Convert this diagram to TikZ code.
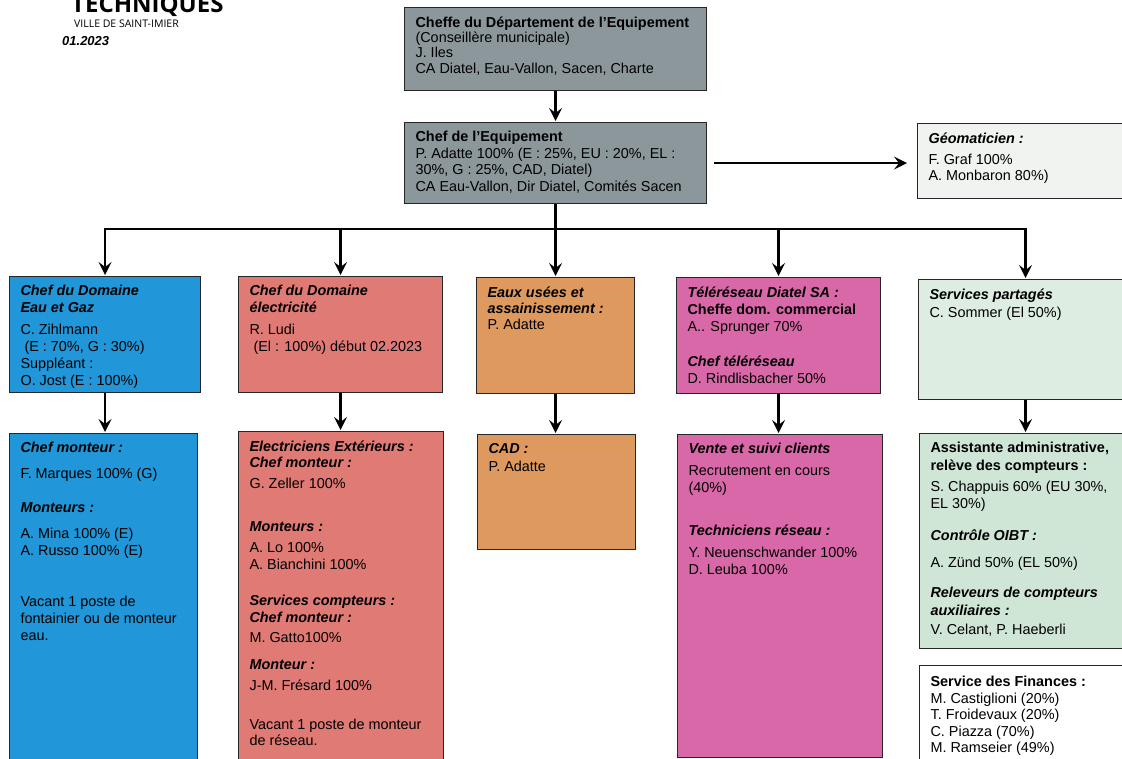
\documentclass[tikz,border=0pt]{standalone}
\usepackage{fontspec}
\setmainfont{Liberation Sans}
\newfontfamily\headfont{Open Sans}
\usetikzlibrary{arrows.meta}
\definecolor{grayunit}{HTML}{8C979C}
\definecolor{geounit}{HTML}{F1F3F1}
\definecolor{blueunit}{HTML}{2196D8}
\definecolor{redunit}{HTML}{E07A75}
\definecolor{orangeunit}{HTML}{DE9A5E}
\definecolor{pinkunit}{HTML}{D968A8}
\definecolor{greenunit}{HTML}{DDEDE2}
\definecolor{greenunitb}{HTML}{CFE5D5}
\tikzstyle{unit} = [draw=black!85, line width=1.1pt, anchor=north west, inner xsep=11pt, inner ysep=9pt, font=\fontsize{14.4}{17}\selectfont]
\tikzstyle{conn} = [line width=2.3pt, -{Stealth[length=13pt,width=13pt,inset=5pt]}, shorten >=1pt]
\newcommand{\unittext}[4][17]{\parbox[t][#3][t]{#2}{\fontsize{14.4}{#1}\selectfont\raggedright #4}}
\newcommand{\ttl}[1]{\textbf{\textit{#1}}}

\begin{document}
\begin{tikzpicture}[x=1pt,y=-1pt]
	\useasboundingbox (0,0) rectangle (1122,758);
	\clip (0,0) rectangle (1122,758);
	\node[anchor=base west, inner sep=0pt, font=\headfont\bfseries\fontsize{24}{24}\selectfont] (title) at (71,12) {TECHNIQUES};
	\node[anchor=base west, inner sep=0pt, font=\headfont\fontsize{10.5}{11}\selectfont] (ville) at (74,27) {VILLE DE SAINT-IMIER};
	\node[anchor=base west, inner sep=0pt, font=\bfseries\itshape\fontsize{13}{13}\selectfont] (date) at (62,45) {01.2023};

	\node[unit, fill=grayunit] (dept) at (404,7) {\unittext[15.3]{280pt}{65pt}{\textbf{Cheffe du Département de l'Equipement}\\ (Conseillère municipale)\\ J. Iles\\ CA Diatel, Eau-Vallon, Sacen, Charte}};
	\node[unit, fill=grayunit] (chef) at (404,122) {\unittext[16.5]{280pt}{63pt}{\textbf{Chef de l'Equipement}\\ P. Adatte 100\% (E : 25\%, EU : 20\%, EL :\\ 30\%, G : 25\%, CAD, Diatel)\\ CA Eau-Vallon, Dir Diatel, Comités Sacen}};
	\node[unit, fill=geounit] (geo) at (917,123) {\unittext{193pt}{57pt}{\ttl{Géomaticien :}\\[4pt] F. Graf 100\%\\[-1pt] A. Monbaron 80\%)}};

	\node[unit, fill=blueunit] (eau) at (9,276) {\unittext{169pt}{98pt}{\ttl{Chef du Domaine}\\ \ttl{Eau et Gaz}\\[5pt] C. Zihlmann\\ \ (E : 70\%, G : 30\%)\\ Suppléant :\\ O. Jost (E : 100\%)}};
	\node[unit, fill=redunit] (elec) at (238,276) {\unittext{182pt}{98pt}{\ttl{Chef du Domaine}\\ \ttl{électricité}\\[5pt] R. Ludi\\ \ (El : 100\%) début 02.2023}};
	\node[unit, fill=orangeunit] (usees) at (476,277) {\unittext[16]{136pt}{98pt}{\ttl{Eaux usées et}\\ \ttl{assainissement :}\\ P. Adatte}};
	\node[unit, fill=pinkunit] (diatel) at (676,277) {\unittext{182pt}{98pt}{\ttl{Téléréseau Diatel SA :}\\ \textbf{Cheffe dom. commercial}\\ A.. Sprunger 70\%\\[18pt] \ttl{Chef téléréseau}\\ D. Rindlisbacher 50\%}};
	\node[unit, fill=greenunit] (partage) at (918,279) {\unittext[18]{192pt}{102pt}{\ttl{Services partagés}\\ C. Sommer (El 50\%)}};

	\node[unit, fill=blueunit] (monteurs) at (9,433) {\unittext{166pt}{322pt}{\ttl{Chef monteur :}\\[9pt] F. Marques 100\% (G)\\[17pt] \ttl{Monteurs :}\\[9pt] A. Mina 100\% (E)\\ A. Russo 100\% (E)\\[34pt] Vacant 1 poste de\\ fontainier ou de monteur\\ eau.}};
	\node[unit, fill=redunit] (ext) at (238,431) {\unittext{183pt}{322pt}{\ttl{Electriciens Extérieurs :}\\[-1pt] \ttl{Chef monteur :}\\[4pt] G. Zeller 100\%\\[26pt] \ttl{Monteurs :}\\[4pt] A. Lo 100\%\\ A. Bianchini 100\%\\[19pt] \ttl{Services compteurs :}\\ \ttl{Chef monteur :}\\[3pt] M. Gatto100\%\\[10pt] \ttl{Monteur :}\\[4pt] J-M. Frésard 100\%\\[22pt] Vacant 1 poste de monteur\\[-1pt] de réseau.}};
	\node[unit, fill=orangeunit] (cad) at (477,434) {\unittext{136pt}{97pt}{\ttl{CAD :}\\[1pt] P. Adatte}};
	\node[unit, fill=pinkunit] (vente) at (677,434) {\unittext{183pt}{305pt}{\ttl{Vente et suivi clients}\\[5pt] Recrutement en cours\\ (40\%)\\[26pt] \ttl{Techniciens réseau :}\\[5pt] Y. Neuenschwander 100\%\\ D. Leuba 100\%}};
	\node[unit, fill=greenunitb] (assist) at (919,433) {\unittext{191pt}{197pt}{\textbf{Assistante administrative,}\\[1pt] \textbf{relève des compteurs :}\\[4pt] S. Chappuis 60\% (EU 30\%,\\ EL 30\%)\\[15pt] \ttl{Contrôle OIBT :}\\[10pt] A. Zünd 50\% (EL 50\%)\\[13pt] \ttl{Releveurs de compteurs}\\[1pt] \ttl{auxiliaires :}\\[2pt] V. Celant, P. Haeberli}};
	\node[unit, fill=white, inner ysep=11pt] (finances) at (919,665) {\unittext[16.5]{191pt}{92pt}{\textbf{Service des Finances :}\\ M. Castiglioni (20\%)\\ T. Froidevaux (20\%)\\ C. Piazza (70\%)\\ M. Ramseier (49\%)}};

	\coordinate (bus) at (555,229);
	\draw[conn] (dept.south) -- (chef.north);
	\draw[conn, shorten <=7pt, shorten >=10pt] (chef.east) -- (chef.east -| geo.west);
	\draw[conn] (chef.south) -- (chef.south |- usees.north);
	\draw[conn] (bus) -| (eau.north);
	\draw[conn] (bus) -| (elec.north);
	\draw[conn] (bus) -| (diatel.north);
	\draw[conn] (bus) -| (partage.north);
	\draw[conn] (eau.south) -- (eau.south |- monteurs.north);
	\draw[conn] (elec.south) -- (elec.south |- ext.north);
	\draw[conn] (usees.south) -- (usees.south |- cad.north);
	\draw[conn] (diatel.south) -- (diatel.south |- vente.north);
	\draw[conn] (partage.south) -- (partage.south |- assist.north);
\end{tikzpicture}
\end{document}
